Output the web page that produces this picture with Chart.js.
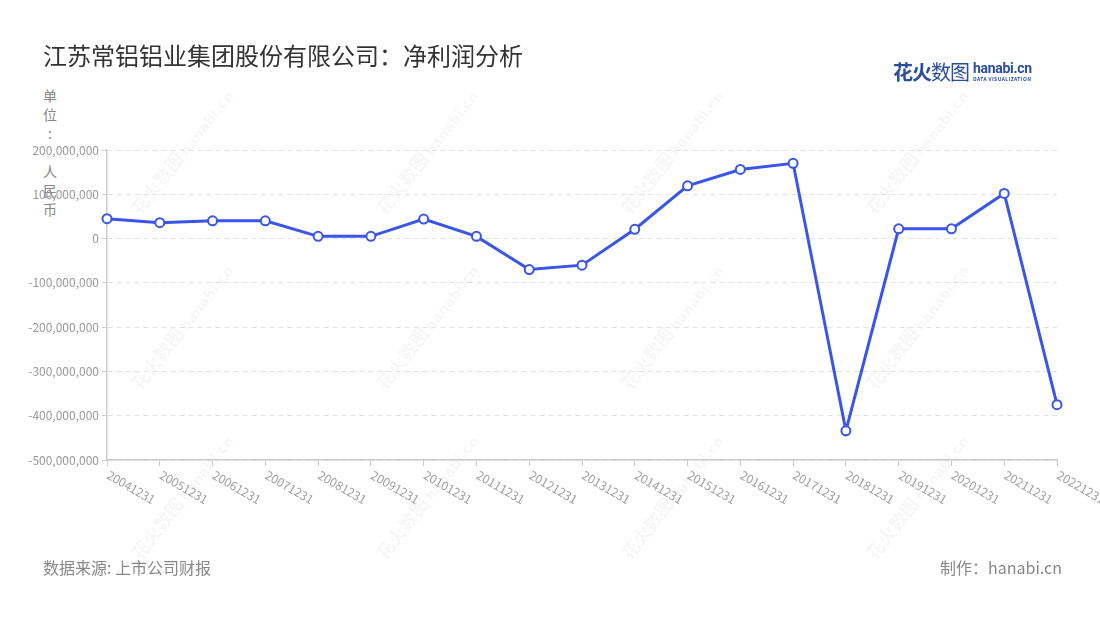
<!DOCTYPE html>
<html lang="zh">
<head>
<meta charset="UTF-8">
<title>江苏常铝铝业集团股份有限公司：净利润分析</title>
<script src="https://cdn.jsdelivr.net/npm/chart.js"></script>
<style>
    body { margin: 0; background: #fff; font-family: "Noto Sans CJK SC", "Noto Sans", sans-serif; }
    #wrap { position: relative; width: 1100px; height: 620px; overflow: hidden; }
    #chart { position: absolute; left: 0; top: 0; z-index: 2; }
    .title { position: absolute; left: 43px; top: 37px; font-size: 24px; color: #333; z-index: 3; }
    .logo { position: absolute; left: 893px; top: 58px; z-index: 3; color: #2a4d9e; white-space: nowrap; }
    .logo .cn { font-size: 20px; font-weight: bold; letter-spacing: -1px; vertical-align: top; line-height: 28px; }
    .logo .cn b { font-weight: normal; }
    .logo .en { display: inline-block; margin-left: 4px; margin-top: 3px; vertical-align: top; line-height: 1; }
    .logo .en .big { font-size: 14px; font-weight: bold; letter-spacing: -0.3px; font-family: Roboto, sans-serif; }
    .logo .en .small { font-size: 5px; letter-spacing: 0.4px; font-weight: bold; margin-top: 1px; }
    .unit { position: absolute; left: 42px; top: 86px; width: 16px; font-size: 14px; line-height: 19px; color: #888; text-align: center; z-index: 1; }
    .footer { position: absolute; top: 555px; font-size: 16px; color: #888; z-index: 3; }
    .wm { position: absolute; z-index: 1; transform: rotate(-52deg); color: rgba(0,0,0,0.055); font-weight: bold; white-space: nowrap; font-size: 18px; }
    .wm span { font-size: 14px; margin-left: 3px; font-family: "DejaVu Sans", sans-serif; }
</style>
</head>
<body>
<div id="wrap">
    <div class="title">江苏常铝铝业集团股份有限公司：净利润分析</div>
    <div class="logo"><span class="cn">花火<b>数图</b></span><span class="en"><div class="big">hanabi.cn</div><div class="small">DATA VISUALIZATION</div></span></div>
    <div class="unit">单<br>位<br>:<br>&nbsp;<br>人<br>民<br>币</div>
    <div id="wms"></div>
    <canvas id="chart" width="1100" height="620"></canvas>
    <div class="footer" style="left:43px;">数据来源: 上市公司财报</div>
    <div class="footer" style="right:38px;">制作：hanabi.cn</div>
</div>

<script>
    const categories = ['20041231', '20051231', '20061231', '20071231', '20081231', '20091231', '20101231',
        '20111231', '20121231', '20131231', '20141231', '20151231', '20161231', '20171231', '20181231',
        '20191231', '20201231', '20211231', '20221231'];
    const netProfit = [45e6, 36e6, 40e6, 40e6, 5e6, 5e6, 44e6, 5e6, -70e6, -60e6, 21e6, 119e6, 156e6, 170e6,
        -434e6, 22e6, 22e6, 102e6, -375e6];
    const yMin = -500e6;
    const yMax = 200e6;
    const yStep = 100e6;

    // faint watermarks behind the chart
    const wmHtml = [];
    [150, 325, 495].forEach(function(cy) {
        [165, 410, 655, 900].forEach(function(cx) {
            wmHtml.push('<div class="wm" style="left:' + (cx - 60) + 'px;top:' + (cy - 12) + 'px;">花火数图<span>hanabi.cn</span></div>');
        });
    });
    document.getElementById('wms').innerHTML = wmHtml.join('');

    // x labels slant down to the right, so draw them ourselves
    const xLabels = {
        id: 'xLabels',
        afterDraw(chart) {
            const ctx = chart.ctx;
            const xs = chart.scales.x;
            const bottom = chart.chartArea.bottom;
            ctx.save();
            ctx.font = '12px "Noto Sans CJK SC", sans-serif';
            ctx.fillStyle = '#a0a0a0';
            ctx.textAlign = 'left';
            ctx.textBaseline = 'middle';
            categories.forEach(function(c, i) {
                const x = xs.getPixelForTick(i);
                ctx.save();
                ctx.translate(x + 1, bottom + 14);
                ctx.rotate(Math.PI / 6);
                ctx.fillText(c, 0, 0);
                ctx.restore();
            });
            ctx.restore();
        }
    };

    new Chart(document.getElementById('chart'), {
        type: 'line',
        data: {
            labels: categories,
            datasets: [{
                data: netProfit,
                borderColor: '#3a55e8',
                borderWidth: 3,
                pointRadius: 4.5,
                pointBorderWidth: 2,
                pointBackgroundColor: '#ffffff',
                pointBorderColor: '#3a55e8',
                tension: 0,
                clip: false
            }]
        },
        options: {
            responsive: false,
            animation: false,
            layout: { padding: { top: 150, right: 43, left: 0, bottom: 0 } },
            plugins: { legend: { display: false }, tooltip: { enabled: false } },
            scales: {
                x: {
                    offset: false,
                    grid: { drawOnChartArea: false, tickLength: 6, tickColor: '#cccccc' },
                    border: { color: '#cccccc', width: 1.5 },
                    ticks: { display: false, autoSkip: false },
                    afterFit(s) { s.height = 160; }
                },
                y: {
                    min: yMin,
                    max: yMax,
                    grid: { color: '#e2e2e2', tickLength: 5, tickColor: '#cccccc', tickBorderDash: [] },
                    border: { color: '#cccccc', width: 1.5, dash: [5, 4] },
                    ticks: {
                        stepSize: yStep,
                        color: '#9a9a9a',
                        padding: 3,
                        font: { size: 12, family: '"Noto Sans CJK SC", sans-serif' },
                        callback: function(v) { return v.toLocaleString('en-US'); }
                    },
                    afterFit(s) { s.width = 107; }
                }
            }
        },
        plugins: [xLabels]
    });
</script>
</body>
</html>
